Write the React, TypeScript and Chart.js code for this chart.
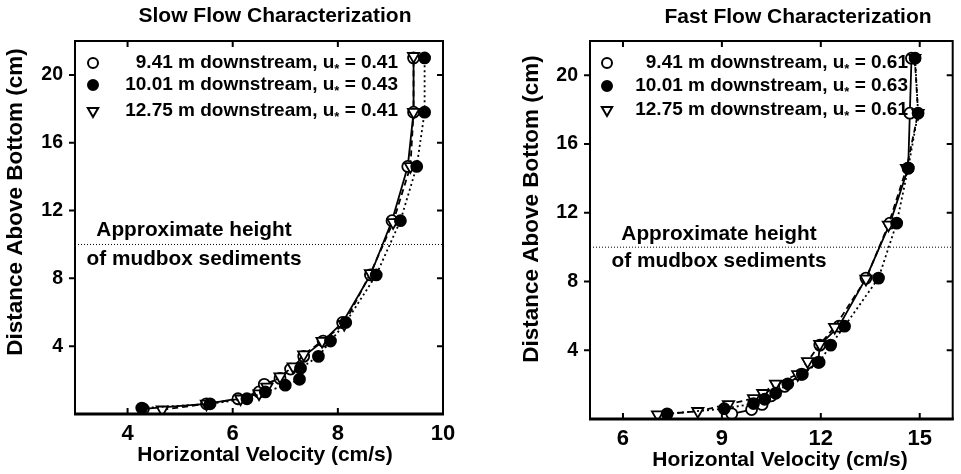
import React, { useEffect, useRef } from "react";
import { Chart, registerables } from "chart.js";
Chart.register(...registerables);

const FAMILY = "'Liberation Sans', Arial, sans-serif";

// ---------- Slow flow ----------
const slowXTicks = [4, 6, 8, 10];
const slowYTicks = [4, 8, 12, 16, 20];
const slowVel941 = [4.3, 5.5, 6.1, 6.5, 6.6, 6.9, 7.1, 7.35, 7.72, 8.09, 8.62, 9.03, 9.33, 9.44, 9.44];
const slowH941 = [0.3, 0.6, 0.9, 1.3, 1.75, 2.1, 2.65, 3.4, 4.3, 5.4, 8.2, 11.4, 14.6, 17.8, 21.0];
const slowVel1001 = [4.27, 5.57, 6.27, 6.62, 7.0, 7.27, 7.29, 7.63, 7.86, 8.15, 8.73, 9.19, 9.5, 9.65, 9.65];
const slowH1001 = [0.35, 0.6, 0.9, 1.3, 1.7, 2.05, 2.7, 3.4, 4.3, 5.4, 8.2, 11.4, 14.6, 17.8, 21.0];
const slowVel1275 = [4.66, 5.5, 6.15, 6.5, 6.65, 6.9, 7.15, 7.35, 7.7, 8.12, 8.62, 9.05, 9.38, 9.44, 9.44];
const slowH1275 = [0.25, 0.6, 0.9, 1.2, 1.6, 2.2, 2.8, 3.5, 4.3, 5.3, 8.3, 11.3, 14.6, 17.8, 21.1];
const slowLegend = [
  ["9.41 m downstream, u", " = 0.41"],
  ["10.01 m downstream, u", " = 0.43"],
  ["12.75 m downstream, u", " = 0.41"],
];

// ---------- Fast flow ----------
const fastXTicks = [6, 9, 12, 15];
const fastYTicks = [4, 8, 12, 16, 20];
const fastVel941 = [9.3, 9.9, 10.22, 10.5, 10.9, 11.4, 11.92, 11.97, 12.55, 13.37, 14.1, 14.65, 14.7, 14.75];
const fastH941 = [0.3, 0.55, 0.85, 1.35, 1.9, 2.6, 3.3, 4.3, 5.4, 8.2, 11.4, 14.6, 17.8, 21.0];
const fastVel1001 = [7.34, 9.07, 9.96, 10.3, 10.63, 11.0, 11.44, 11.95, 12.3, 12.72, 13.75, 14.3, 14.65, 14.95, 14.86];
const fastH1001 = [0.3, 0.6, 0.9, 1.15, 1.5, 2.05, 2.6, 3.3, 4.3, 5.4, 8.2, 11.4, 14.6, 17.8, 21.0];
const fastVel1275 = [7.05, 8.27, 9.2, 9.96, 10.24, 10.63, 11.3, 11.6, 11.97, 12.42, 13.37, 14.05, 14.6, 14.95, 14.85];
const fastH1275 = [0.25, 0.45, 0.85, 1.2, 1.5, 2.05, 2.6, 3.35, 4.35, 5.35, 8.15, 11.3, 14.6, 17.8, 21.0];
const fastLegend = [
  ["9.41 m downstream, u", " = 0.61"],
  ["10.01 m downstream, u", " = 0.63"],
  ["12.75 m downstream, u", " = 0.61"],
];

const mudboxHeight = 10;
const noteLines = ["Approximate height", "of mudbox sediments"];
const xTitle = "Horizontal Velocity (cm/s)";
const yTitle = "Distance Above Bottom (cm)";

type Cfg = {
  title: string;
  titleX: number;
  titleY: number;
  xMin: number;
  xMax: number;
  xTicks: number[];
  yTicks: number[];
  series: { vel: number[]; h: number[] }[];
  legend: string[][];
  padTop: number;
  padRight: number;
  yWidth: number;
  xHeight: number;
  xTitleX: number;
  xTitleY: number;
  yTitleX: number;
  yTitleY: number;
  legendMarkerDx: number;
  legendTextRight: number;
  legendRows: number[];
  noteDx: number;
  noteDy: number[];
  width: number;
};

// index: 0 = open circle (9.41 m), 1 = filled circle (10.01 m), 2 = open triangle (12.75 m)
const styles = [
  { pointStyle: "circle", fill: "#fff", dash: [] as number[], rot: 0, r: 5.5, order: 2 },
  { pointStyle: "circle", fill: "#000", dash: [2, 3], rot: 0, r: 5.5, order: 0 },
  { pointStyle: "triangle", fill: "#fff", dash: [6, 4], rot: 180, r: 6.5, order: 1 },
];

function makeDecor(cfg: Cfg) {
  return {
    id: "decor",
    afterDraw(chart: any) {
      const { ctx, chartArea: a, scales } = chart;
      const xs = scales.x;
      const ys = scales.y;
      ctx.save();
      ctx.strokeStyle = "#000";
      ctx.fillStyle = "#000";
      ctx.lineWidth = 2;
      ctx.strokeRect(a.left, a.top, a.right - a.left, a.bottom - a.top);
      ctx.lineWidth = 3;
      ctx.beginPath();
      ctx.moveTo(a.left - 1, a.bottom);
      ctx.lineTo(a.right + 1, a.bottom);
      ctx.stroke();
      ctx.lineWidth = 2;
      ctx.beginPath();
      cfg.xTicks.forEach((v) => {
        const px = xs.getPixelForValue(v);
        ctx.moveTo(px, a.bottom);
        ctx.lineTo(px, a.bottom - 6);
        ctx.moveTo(px, a.top);
        ctx.lineTo(px, a.top + 6);
      });
      cfg.yTicks.forEach((v) => {
        const py = ys.getPixelForValue(v);
        ctx.moveTo(a.left - 6, py);
        ctx.lineTo(a.left, py);
        ctx.moveTo(a.right, py);
        ctx.lineTo(a.right - 6, py);
      });
      ctx.stroke();

      ctx.textAlign = "center";
      ctx.textBaseline = "middle";

      // title
      ctx.font = `bold 21px ${FAMILY}`;
      ctx.fillText(cfg.title, cfg.titleX, cfg.titleY);

      // x title
      ctx.font = `bold 21px ${FAMILY}`;
      ctx.fillText(xTitle, cfg.xTitleX, cfg.xTitleY);

      // y title
      ctx.save();
      ctx.translate(cfg.yTitleX, cfg.yTitleY);
      ctx.rotate(-Math.PI / 2);
      ctx.font = `bold 22.5px ${FAMILY}`;
      ctx.fillText(yTitle, 0, 0);
      ctx.restore();

      // note
      const ly = ys.getPixelForValue(mudboxHeight);
      ctx.font = `bold 20.8px ${FAMILY}`;
      noteLines.forEach((t, i) => ctx.fillText(t, a.left + cfg.noteDx, ly + cfg.noteDy[i]));

      // legend
      ctx.textAlign = "left";
      cfg.legend.forEach((parts, i) => {
        const y = a.top + cfg.legendRows[i];
        const st = styles[i];
        const mx = a.left + cfg.legendMarkerDx;
        ctx.lineWidth = 2;
        ctx.setLineDash([]);
        ctx.beginPath();
        if (st.pointStyle === "circle") {
          ctx.arc(mx, y, 5, 0, Math.PI * 2);
        } else {
          const r = 6;
          ctx.moveTo(mx, y + r);
          ctx.lineTo(mx - r * 0.866, y - r * 0.5);
          ctx.lineTo(mx + r * 0.866, y - r * 0.5);
          ctx.closePath();
        }
        ctx.fillStyle = st.fill;
        ctx.fill();
        ctx.stroke();
        ctx.fillStyle = "#000";
        ctx.font = `bold 19px ${FAMILY}`;
        const w1 = ctx.measureText(parts[0]).width;
        const w3 = ctx.measureText(parts[1]).width;
        ctx.font = `bold 13px ${FAMILY}`;
        const w2 = ctx.measureText("*").width;
        const right = a.left + cfg.legendTextRight;
        const x0 = right - w1 - w2 - w3;
        ctx.font = `bold 19px ${FAMILY}`;
        ctx.fillText(parts[0], x0, y);
        ctx.fillText(parts[1], x0 + w1 + w2, y);
        ctx.font = `bold 13px ${FAMILY}`;
        ctx.fillText("*", x0 + w1, y + 6);
      });
      ctx.restore();
    },
  };
}

function FlowChart({ cfg, left }: { cfg: Cfg; left: number }) {
  const ref = useRef<HTMLCanvasElement>(null);
  useEffect(() => {
    const datasets: any[] = cfg.series.map((s, i) => ({
      label: cfg.legend[i].join("*"),
      data: s.vel.map((v, j) => ({ x: v, y: s.h[j] })),
      showLine: true,
      borderColor: "#000",
      borderWidth: 1.8,
      borderDash: styles[i].dash,
      pointStyle: styles[i].pointStyle,
      rotation: styles[i].rot,
      pointRadius: styles[i].r,
      pointBackgroundColor: styles[i].fill,
      pointBorderColor: "#000",
      pointBorderWidth: 1.8,
      order: styles[i].order,
    }));
    datasets.push({
      label: "mudbox",
      data: [
        { x: cfg.xMin, y: mudboxHeight },
        { x: cfg.xMax, y: mudboxHeight },
      ],
      showLine: true,
      borderColor: "#000",
      borderWidth: 1,
      borderDash: [1, 2],
      pointRadius: 0,
      order: 10,
    });
    const chart = new Chart(ref.current!, {
      type: "scatter",
      data: { datasets },
      options: {
        responsive: false,
        animation: false,
        layout: { padding: { top: cfg.padTop, right: cfg.padRight, left: 0, bottom: 0 } },
        plugins: { legend: { display: false }, title: { display: false }, tooltip: { enabled: false } },
        scales: {
          x: {
            type: "linear",
            min: cfg.xMin,
            max: cfg.xMax,
            grid: { display: false, drawTicks: false },
            border: { display: false },
            ticks: { font: { family: FAMILY, size: 22, weight: "bold" }, color: "#000", padding: 6.5 },
            afterBuildTicks: (s: any) => {
              s.ticks = cfg.xTicks.map((v) => ({ value: v }));
            },
            afterFit: (s: any) => {
              s.height = cfg.xHeight;
            },
          },
          y: {
            type: "linear",
            min: 0,
            max: 22,
            grid: { display: false, drawTicks: false },
            border: { display: false },
            ticks: { font: { family: FAMILY, size: 19.5, weight: "bold" }, color: "#000", padding: 12 },
            afterBuildTicks: (s: any) => {
              s.ticks = cfg.yTicks.map((v) => ({ value: v }));
            },
            afterFit: (s: any) => {
              s.width = cfg.yWidth;
            },
          },
        },
      } as any,
      plugins: [makeDecor(cfg)],
    });
    return () => chart.destroy();
  }, []);
  return (
    <div style={{ position: "absolute", left, top: 0, width: cfg.width, height: 474 }}>
      <canvas ref={ref} width={cfg.width} height={474} style={{ display: "block" }} />
    </div>
  );
}

const slowCfg: Cfg = {
  title: "Slow Flow Characterization",
  titleX: 275,
  titleY: 16,
  xMin: 3,
  xMax: 10,
  xTicks: slowXTicks,
  yTicks: slowYTicks,
  series: [
    { vel: slowVel941, h: slowH941 },
    { vel: slowVel1001, h: slowH1001 },
    { vel: slowVel1275, h: slowH1275 },
  ],
  legend: slowLegend,
  padTop: 41,
  padRight: 37,
  yWidth: 75,
  xHeight: 60,
  xTitleX: 265,
  xTitleY: 455,
  yTitleX: 16,
  yTitleY: 202,
  legendMarkerDx: 18,
  legendTextRight: 323,
  legendRows: [22, 44, 70],
  noteDx: 119,
  noteDy: [-14, 15],
  width: 480,
};

const fastCfg: Cfg = {
  title: "Fast Flow Characterization",
  titleX: 318,
  titleY: 17,
  xMin: 5,
  xMax: 16,
  xTicks: fastXTicks,
  yTicks: fastYTicks,
  series: [
    { vel: fastVel941, h: fastH941 },
    { vel: fastVel1001, h: fastH1001 },
    { vel: fastVel1275, h: fastH1275 },
  ],
  legend: fastLegend,
  padTop: 41,
  padRight: 1,
  yWidth: 110,
  xHeight: 55,
  xTitleX: 300,
  xTitleY: 460,
  yTitleX: 52,
  yTitleY: 209,
  legendMarkerDx: 17,
  legendTextRight: 318,
  legendRows: [22, 45, 69],
  noteDx: 129,
  noteDy: [-13, 14],
  width: 481,
};

export default function App() {
  return (
    <div style={{ position: "fixed", left: 0, top: 0, width: 961, height: 474, background: "#fff", overflow: "hidden" }}>
      <FlowChart cfg={slowCfg} left={0} />
      <FlowChart cfg={fastCfg} left={480} />
    </div>
  );
}
